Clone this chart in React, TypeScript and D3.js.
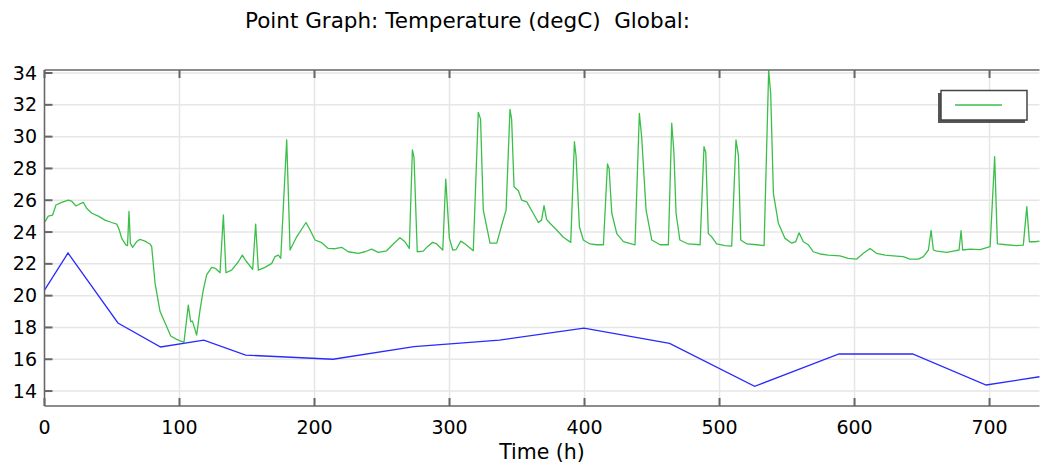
import React from "react";
import * as d3 from "d3";

const width = 1040;
const height = 464;

// Time (h), Temperature (degC)
const blueSeries: [number, number][] = [
  [0, 20.35], [17.4, 22.68], [54.4, 18.28], [86, 16.77], [118, 17.2], [149, 16.26],
  [213.7, 16.0], [273.7, 16.8], [337, 17.2], [399.6, 17.96], [463, 17.0], [526, 14.3],
  [588.5, 16.33], [643, 16.33], [697.5, 14.38], [737, 14.9],
];

const greenSeries: [number, number][] = [
  [0.4, 24.65], [2.8, 25.0], [6, 25.07], [8.5, 25.7], [12.7, 25.87], [17.6, 26.0], [20, 25.95],
  [23.3, 25.64], [25.8, 25.75], [28.7, 25.87], [31.2, 25.5], [35, 25.18], [39.9, 25.0],
  [44.8, 24.75], [49.8, 24.6], [53.5, 24.5], [55.4, 24.13], [57.2, 23.6], [60.4, 23.18],
  [61.5, 23.15], [62.6, 25.3], [63.6, 23.29], [65.3, 23.04], [68.3, 23.4], [70.7, 23.54],
  [74.4, 23.43], [78.1, 23.25], [79.4, 23.08], [81.9, 20.77], [85.6, 19.0], [90, 18.15],
  [93.5, 17.46], [97.9, 17.25], [103.3, 17.06], [106.5, 19.4], [108.3, 18.36], [109.6, 18.4],
  [112.7, 17.52], [115.2, 19.1], [117.6, 20.35], [120.1, 21.3], [123.8, 21.78], [126.5, 21.72],
  [130, 21.44], [132.5, 25.07], [134.4, 21.44], [138.6, 21.6], [143.6, 22.13], [146.5, 22.55],
  [149.7, 22.13], [154.2, 21.65], [156.4, 24.5], [158.4, 21.6], [163.3, 21.78], [168.3, 22.03],
  [170.7, 22.45], [173.2, 22.55], [175, 22.35], [179.4, 29.8], [181.9, 22.87], [186.8, 23.7],
  [193.7, 24.6], [196.7, 24.13], [200.4, 23.5], [205.3, 23.33], [210.2, 22.97], [215.2, 22.95],
  [220.1, 23.04], [225, 22.76], [232.5, 22.66], [237.4, 22.76], [242.3, 22.93], [247.2, 22.72],
  [253.4, 22.82], [258.3, 23.25], [263.3, 23.64], [267, 23.39], [270.2, 22.97], [272.5, 29.16],
  [273.7, 28.7], [276.1, 22.76], [280.5, 22.8], [283.6, 23.08], [287.5, 23.35], [290.5, 23.25],
  [295, 22.87], [297.2, 27.33], [299.9, 23.6], [302.4, 22.87], [304.9, 22.9], [308.3, 23.43],
  [311.6, 23.25], [317.6, 22.82], [321.3, 31.53], [323, 31.1], [325, 25.4], [330, 23.3],
  [335, 23.3], [338.7, 24.44], [341.9, 25.38], [344.8, 31.72], [346, 31.1], [347.8, 26.85],
  [351, 26.6], [353.5, 26.0], [357.2, 25.9], [362, 25.18], [365.8, 24.6], [368.2, 24.75],
  [370, 25.66], [371.9, 24.8], [374.4, 24.55], [379.4, 24.13], [384.3, 23.67], [389.8, 23.35],
  [392.5, 29.68], [393.7, 28.8], [396.2, 24.33], [399.1, 23.5], [404, 23.25], [409, 23.2],
  [414, 23.2], [417, 28.28], [418.2, 28.0], [420.2, 25.18], [423.9, 23.9], [428.8, 23.4],
  [437.4, 23.2], [440.6, 31.46], [442.3, 30.0], [445.6, 25.38], [449.8, 23.5], [456, 23.2],
  [462.1, 23.2], [464.6, 30.84], [466.2, 29.0], [467.8, 25.18], [470.6, 23.5], [476.8, 23.25],
  [485.6, 23.2], [488.5, 29.37], [489.8, 29.0], [491.7, 23.9], [494.2, 23.7], [497.9, 23.25],
  [504, 23.15], [509, 23.12], [512.2, 29.8], [514, 28.8], [515.7, 23.5], [520.2, 23.25],
  [527.6, 23.2], [533, 23.15], [536.4, 34.15], [537.9, 32.7], [539.9, 26.43], [543.6, 24.55],
  [548.5, 23.6], [553.5, 23.3], [556.5, 23.4], [558.9, 23.95], [562.1, 23.39], [565.8, 23.2],
  [569.5, 22.76], [574.4, 22.62], [580.6, 22.55], [589.2, 22.5], [595.4, 22.35], [601.6, 22.3],
  [606.5, 22.66], [611.5, 22.97], [616.3, 22.66], [622.6, 22.55], [628.7, 22.5], [636.1, 22.45],
  [641, 22.3], [647.3, 22.3], [651, 22.45], [654.7, 22.87], [656.7, 24.1], [658.4, 22.87],
  [660.9, 22.8], [668.3, 22.72], [673.2, 22.8], [677.4, 22.87], [678.9, 24.08], [680.1, 22.87],
  [685.6, 22.93], [693, 22.9], [700.4, 23.08], [703.8, 28.74], [705.8, 23.26], [712.6, 23.2],
  [720, 23.15], [725, 23.18], [727.6, 25.6], [729.5, 23.39], [733.7, 23.39], [737, 23.43],
];

const xTicks = [0, 100, 200, 300, 400, 500, 600, 700];
const yTicks = [14, 16, 18, 20, 22, 24, 26, 28, 30, 32, 34];

const title = "Point Graph: Temperature (degC)  Global:";
const xLabel = "Time (h)";

const margin = { top: 70, right: 0.5, bottom: 58, left: 44.5 };

export default function App() {
  const x = d3
    .scaleLinear()
    .domain([0, 737])
    .range([margin.left, width - margin.right]);
  const y = d3
    .scaleLinear()
    .domain([13.06, 34.19])
    .range([height - margin.bottom, margin.top]);

  const line = d3
    .line<[number, number]>()
    .x((d) => x(d[0]))
    .y((d) => y(d[1]));

  const font = "DejaVu Sans, sans-serif";
  const axisColor = "#666";
  const top = margin.top;
  const bottom = height - margin.bottom;
  const left = margin.left;
  const right = width - margin.right;

  return (
    <svg
      width={width}
      height={height}
      style={{ position: "absolute", left: 0, top: 0, background: "#fff" }}
      fontFamily={font}
    >
      <rect width={width} height={height} fill="#fff" />

      {/* title */}
      <text x={467.5} y={28} textAnchor="middle" fontSize={21.5} fill="#000" style={{ whiteSpace: "pre" }}>
        {title}
      </text>

      {/* grid */}
      <g stroke="#e6e6e6" strokeWidth={1.5}>
        {xTicks.map((t) => (
          <line key={"gx" + t} x1={x(t)} x2={x(t)} y1={top} y2={bottom} />
        ))}
        {yTicks.map((t) => (
          <line key={"gy" + t} x1={left} x2={right} y1={y(t)} y2={y(t)} />
        ))}
      </g>

      {/* data */}
      <path d={line(blueSeries) || ""} fill="none" stroke="#2a2aff" strokeWidth={1.3} />
      <path d={line(greenSeries) || ""} fill="none" stroke="#3cbf4a" strokeWidth={1.3} strokeLinejoin="round" />

      {/* frame and ticks */}
      <g stroke={axisColor} strokeWidth={1.5} fill="none">
        <line x1={left} x2={left} y1={top} y2={bottom} />
        <line x1={left} x2={right} y1={bottom} y2={bottom} />
        <line x1={left} x2={right} y1={top} y2={top} />
        {xTicks.map((t) => (
          <g key={"tx" + t}>
            <line x1={x(t)} x2={x(t)} y1={bottom} y2={bottom - 8} strokeWidth={2} />
            <line x1={x(t)} x2={x(t)} y1={top} y2={top + 8} strokeWidth={2} />
          </g>
        ))}
        {yTicks.map((t) => (
          <line key={"ty" + t} x1={left} x2={left + 8} y1={y(t)} y2={y(t)} strokeWidth={2} />
        ))}
      </g>

      {/* tick labels */}
      <g fontSize={19} fill="#000">
        {xTicks.map((t) => (
          <text key={"lx" + t} x={x(t)} y={434} textAnchor="middle">
            {t}
          </text>
        ))}
        {yTicks.map((t) => (
          <text key={"ly" + t} x={37} y={y(t)} dy="0.35em" textAnchor="end">
            {t}
          </text>
        ))}
      </g>
      <text x={(left + right) / 2} y={459} textAnchor="middle" fontSize={20.5} fill="#000">
        {xLabel}
      </text>

      {/* legend */}
      <g>
        <rect x={938} y={93} width={87} height={30} fill="#555" />
        <rect x={941} y={90.5} width={86} height={29.5} fill="#fff" stroke="#444" strokeWidth={1.5} />
        <line x1={955} x2={1002} y1={105} y2={105} stroke="#3cbf4a" strokeWidth={1.5} />
      </g>
    </svg>
  );
}
